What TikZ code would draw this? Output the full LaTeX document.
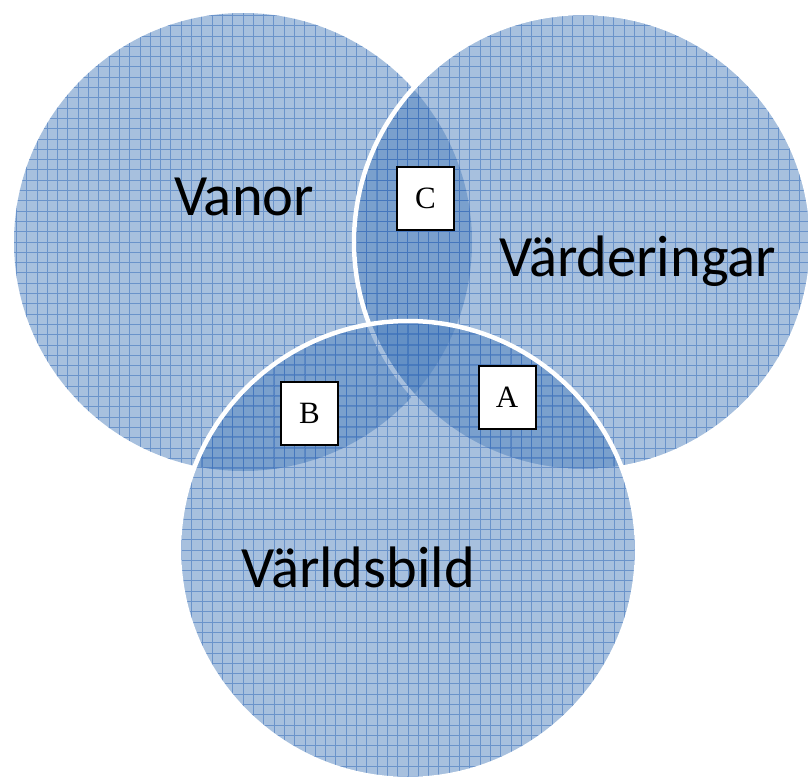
\documentclass[tikz,border=0pt]{standalone}
\usepackage{fontspec}
\newfontfamily\lblfont{Carlito}
\newfontfamily\boxfont{Liberation Serif}
\definecolor{circfill}{HTML}{4F81BD}
\definecolor{gridc}{HTML}{2F66B8}
\tikzset{
  venncirc/.style={circle, minimum size=458pt, inner sep=0pt, outer sep=0pt,
    fill=circfill, fill opacity=0.5, draw=white, draw opacity=1, line width=4.5pt,
    path picture={\draw[gridc, opacity=0.5, line width=0.9pt, step=10.3pt]
      (path picture bounding box.south west) grid (path picture bounding box.north east);}},
  setlbl/.style={font=\lblfont\fontsize{58.5}{62}\selectfont, text=black, inner sep=0pt, anchor=base},
  regionbox/.style={draw=black, line width=2pt, fill=white, minimum width=57pt, minimum height=63pt,
    inner sep=0pt, font=\boxfont\fontsize{31}{34}\selectfont}
}
\begin{document}
\begin{tikzpicture}[x=1pt,y=-1pt]
\useasboundingbox (0,0) rectangle (808,780);
\node[venncirc, draw=none] (vanor) at (243,242) {};
\node[venncirc] (varderingar) at (583,242) {};
\node[venncirc] (varldsbild) at (408,550) {};
\node[setlbl] (vanorlbl) at (244,215) {Vanor};
\node[setlbl] (varderingarlbl) at (637.5,276) {Värderingar};
\node[setlbl] (varldsbildlbl) at (358,587) {Världsbild};
\node[regionbox] (c) at (425.5,198.5) {C};
\node[regionbox] (b) at (309.5,413) {B};
\node[regionbox] (a) at (507,397) {A};
\end{tikzpicture}
\end{document}
